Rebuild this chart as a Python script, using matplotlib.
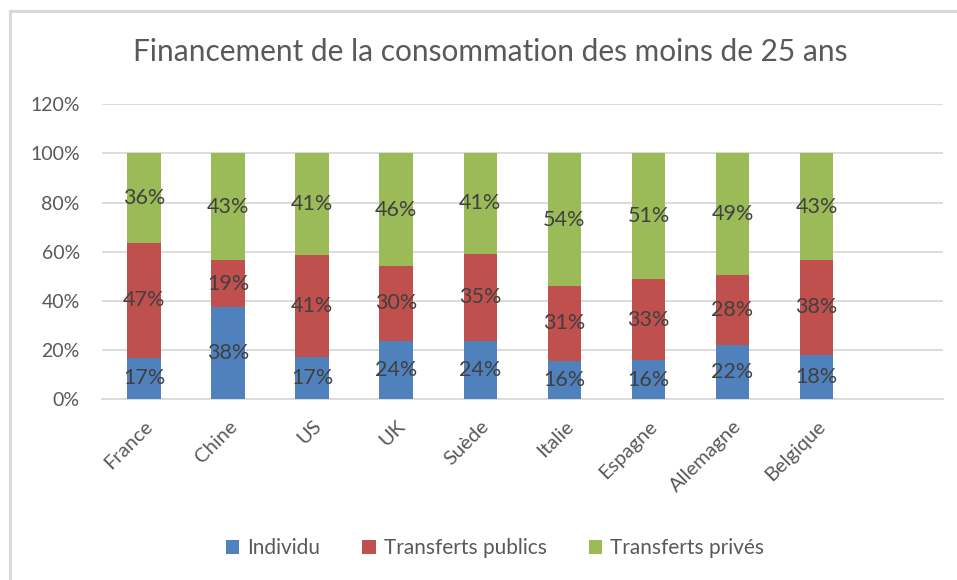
import matplotlib
matplotlib.use("Agg")
import matplotlib.pyplot as plt
from matplotlib.patches import Rectangle
import numpy as np

plt.rcParams['font.family'] = ['Lato', 'DejaVu Sans']

title = "Financement de la consommation des moins de 25 ans"
categories = ["France", "Chine", "US", "UK", "Suède", "Italie", "Espagne", "Allemagne", "Belgique", ""]
series_names = ["Individu", "Transferts publics", "Transferts privés"]
individu = [17.0, 37.6, 17.3, 23.8, 23.9, 15.6, 15.8, 22.2, 18.2, np.nan]
transferts_publics = [46.6, 19.0, 41.4, 30.4, 35.4, 30.6, 33.0, 28.4, 38.4, np.nan]
transferts_prives = [36.4, 43.4, 41.3, 45.8, 40.7, 53.8, 51.2, 49.4, 43.4, np.nan]
colors = ["#4f81bd", "#c0504d", "#9bbb59"]
yticks = [0, 20, 40, 60, 80, 100, 120]

W, H = 957, 580
fig = plt.figure(figsize=(W / 100, H / 100), dpi=100)
fig.patch.set_facecolor("white")

# outer chart border
fig.patches.append(Rectangle((9.5 / W, -0.05), 1.1, 1 - 11 / H + 0.05,
                             transform=fig.transFigure, fill=False,
                             edgecolor="#d9d9d9", linewidth=2.2, zorder=0))

ax = fig.add_axes([102 / W, 1 - 399.3 / H, (942.7 - 102) / W, (399.3 - 104.3) / H])

x = np.arange(len(categories))
data = [individu, transferts_publics, transferts_prives]
bottom = np.zeros(len(categories))
for vals, name, col in zip(data, series_names, colors):
    v = np.array(vals, dtype=float)
    ax.bar(x, np.nan_to_num(v), width=0.40, bottom=bottom, color=col, label=name, zorder=3)
    for xi, vi, bi in zip(x, v, bottom):
        if not np.isnan(vi):
            ax.text(xi, bi + vi / 2, f"{vi:.0f}%", ha="center", va="center",
                    fontsize=15.5, color="#404040", zorder=4)
    bottom = bottom + np.nan_to_num(v)

ax.set_xlim(-0.5, len(categories) - 0.5)
ax.set_ylim(0, 120)
ax.set_yticks(yticks)
ax.set_yticklabels([f"{t}%" for t in yticks], fontsize=14, color="#595959")
ax.yaxis.grid(True, color="#d9d9d9", linewidth=1.3, zorder=0)
ax.set_axisbelow(True)
ax.tick_params(axis="y", length=0, pad=16)
ax.tick_params(axis="x", length=0, pad=13)
ax.set_xticks(x)
ax.set_xticklabels(categories, rotation=45, ha="right", rotation_mode="anchor",
                   fontsize=14.5, color="#595959")
for s in ["left", "right", "top"]:
    ax.spines[s].set_visible(False)
ax.spines["bottom"].set_color("#d9d9d9")
ax.spines["bottom"].set_linewidth(1.3)

fig.text(490 / W, 1 - 52 / H, title, ha="center", va="center", fontsize=21.5, color="#595959")

handles, labels = ax.get_legend_handles_labels()
fig.legend(handles, labels, loc="center", bbox_to_anchor=(495 / W, 1 - 548 / H), ncol=3,
           frameon=False, fontsize=15, handlelength=0.65, handleheight=0.65,
           handletextpad=0.4, columnspacing=2.0, labelcolor="#595959")

fig.savefig("out.png", dpi=100)
